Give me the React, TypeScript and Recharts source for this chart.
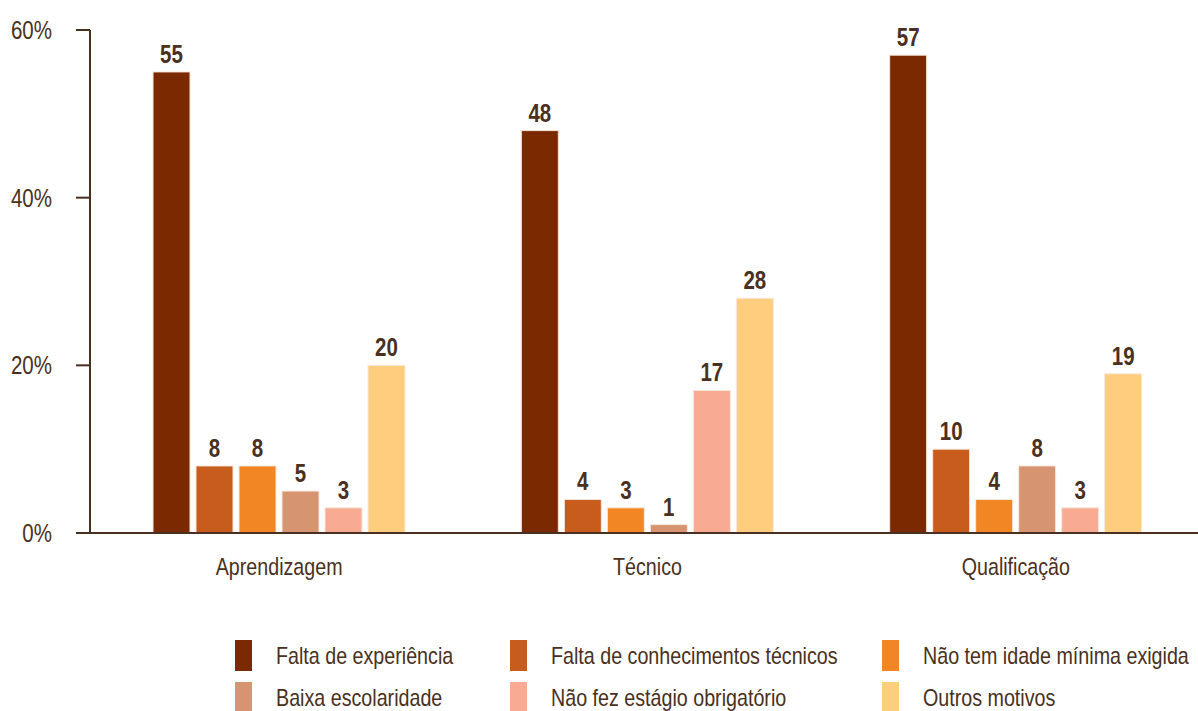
import React from "react";
import { BarChart, Bar, XAxis, YAxis, Legend, LabelList } from "recharts";

const categories = ["Aprendizagem", "Técnico", "Qualificação"];
const faltaExperiencia = [55, 48, 57];
const faltaConhecimentos = [8, 4, 10];
const naoTemIdade = [8, 3, 4];
const baixaEscolaridade = [5, 1, 8];
const naoFezEstagio = [3, 17, 3];
const outrosMotivos = [20, 28, 19];
const yTicks = [0, 20, 40, 60];

const seriesNames = [
  "Falta de experiência",
  "Falta de conhecimentos técnicos",
  "Não tem idade mínima exigida",
  "Baixa escolaridade",
  "Não fez estágio obrigatório",
  "Outros motivos",
];
const seriesColors = ["#7a2900", "#c85c1d", "#f28524", "#d69470", "#f8ab92", "#fecd7d"];
const seriesValues = [
  faltaExperiencia,
  faltaConhecimentos,
  naoTemIdade,
  baixaEscolaridade,
  naoFezEstagio,
  outrosMotivos,
];

const data = categories.map((c, i) => {
  const row: Record<string, string | number> = { name: c };
  seriesValues.forEach((vals, s) => {
    row["s" + s] = vals[i];
  });
  return row;
});

const FONT = "'Liberation Sans', Arial, sans-serif";
const TEXT = "#4a3020";
const AXIS = "#4a3020";
const SX = 0.82;

const sq = (x: number, y: number) =>
  `translate(${x},${y}) scale(${SX},1) translate(${-x},${-y})`;

const YTick = (props: any) => {
  const { x, y, payload } = props;
  return (
    <text
      x={x}
      y={y}
      dy="0.36em"
      textAnchor="end"
      fill={TEXT}
      fontSize={25}
      fontFamily={FONT}
      transform={sq(x, y)}
    >
      {payload.value + "%"}
    </text>
  );
};

const XTick = (props: any) => {
  const { x, y, payload } = props;
  return (
    <text
      x={x}
      y={y}
      dy="0.9em"
      textAnchor="middle"
      fill={TEXT}
      fontSize={24}
      fontFamily={FONT}
      transform={sq(x, y)}
    >
      {payload.value}
    </text>
  );
};

const ValueLabel = (props: any) => {
  const { x, y, width, value } = props;
  const cx = x + width / 2;
  const ty = y - 9;
  return (
    <text
      x={cx}
      y={ty}
      textAnchor="middle"
      fill={TEXT}
      fontSize={25}
      fontWeight={700}
      fontFamily={FONT}
      transform={sq(cx, ty)}
    >
      {value}
    </text>
  );
};

const legendCols = [235, 510, 882];

const LegendContent = () => (
  <div style={{ position: "relative", width: 1198, height: 71, fontFamily: FONT }}>
    {seriesNames.map((n, i) => {
      const col = i % 3;
      const row = Math.floor(i / 3);
      return (
        <div
          key={n}
          style={{
            position: "absolute",
            left: legendCols[col],
            top: row * 42,
            height: row === 0 ? 31 : 29,
            width: 330,
          }}
        >
          <div
            style={{
              position: "absolute",
              left: 0,
              top: 0,
              width: 17,
              height: row === 0 ? 31 : 29,
              background: seriesColors[i],
            }}
          />
          <span
            style={{
              position: "absolute",
              left: 41,
              top: 2,
              fontSize: 24,
              lineHeight: "27px",
              color: TEXT,
              whiteSpace: "nowrap",
              transform: `scaleX(${SX})`,
              transformOrigin: "0 50%",
            }}
          >
            {n}
          </span>
        </div>
      );
    })}
  </div>
);

export default function App() {
  return (
    <div style={{ position: "absolute", left: 0, top: 0, width: 1198, height: 711, background: "#fff", overflow: "hidden" }}>
      <BarChart
        width={1198}
        height={711}
        data={data}
        margin={{ top: 30, right: -2, bottom: 0, left: 0 }}
        barSize={37}
        barGap={6}
      >
        <XAxis
          dataKey="name"
          height={107}
          axisLine={{ stroke: AXIS, strokeWidth: 2 }}
          tickLine={false}
          tick={<XTick />}
          tickMargin={14}
          padding={{ left: 5, right: 0 }}
        />
        <YAxis
          width={90}
          domain={[0, 60]}
          ticks={yTicks}
          axisLine={{ stroke: AXIS, strokeWidth: 2 }}
          tickLine={{ stroke: AXIS, strokeWidth: 2 }}
          tickSize={14}
          tickMargin={24}
          tick={<YTick />}
        />
        <Legend verticalAlign="bottom" align="left" content={<LegendContent />} />
        {seriesNames.map((n, i) => (
          <Bar
            key={n}
            dataKey={"s" + i}
            name={n}
            fill={seriesColors[i]}
            stroke="#f6e8dc"
            strokeWidth={1}
            isAnimationActive={false}
          >
            <LabelList dataKey={"s" + i} content={<ValueLabel />} />
          </Bar>
        ))}
      </BarChart>
    </div>
  );
}
